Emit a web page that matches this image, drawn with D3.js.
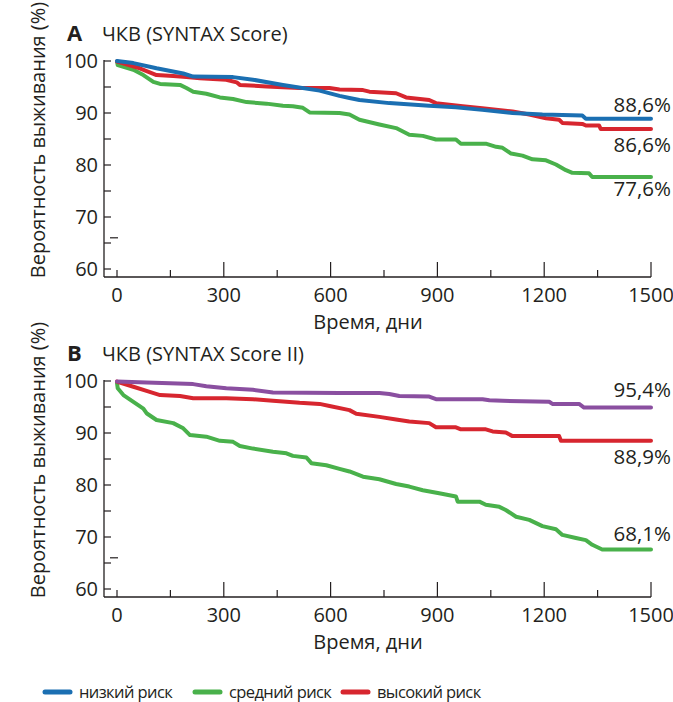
<!DOCTYPE html>
<html>
<head>
<meta charset="utf-8">
<script src="https://cdn.jsdelivr.net/npm/d3@7"></script>
<style>
  body { margin: 0; background: #fff; }
  svg text { font-family: "Open Sans", sans-serif; fill: #231f20; }
</style>
</head>
<body>
<svg id="chart" width="673" height="702"></svg>
<script>
// Kaplan-Meier curves, [day, survival %]
const aLow = [[0,100],[46,99.6],[111,98.6],[186,97.6],[214,97.0],[326,96.9],[382,96.4],[466,95.4],[569,94.3],
  [625,93.3],[653,92.9],[681,92.5],[765,91.9],[877,91.4],[952,91.1],[1026,90.6],[1111,90.0],[1195,89.7],
  [1307,89.5],[1317,88.9],[1500,88.9]];
const aMid = [[0,99.9],[2,99.2],[46,98.3],[74,97.3],[102,96.0],[121,95.6],[177,95.4],[195,94.8],[214,94.1],
  [251,93.7],[289,93.0],[326,92.7],[364,92.1],[420,91.8],[466,91.4],[494,91.3],[522,91.0],[541,90.1],
  [625,90.0],[653,89.7],[681,88.7],[737,87.8],[784,87.1],[821,85.8],[859,85.6],[896,84.9],[952,84.9],
  [966,84.1],[1036,84.1],[1065,83.5],[1083,83.3],[1107,82.2],[1139,81.8],[1167,81.1],[1205,80.9],
  [1233,80.1],[1261,79.0],[1279,78.5],[1326,78.4],[1335,77.7],[1500,77.7]];
const aHigh = [[0,99.9],[64,98.6],[111,97.3],[158,97.1],[195,96.9],[233,96.7],[307,96.4],[336,95.9],[345,95.4],
  [420,95.1],[513,94.8],[597,94.8],[625,94.5],[691,94.4],[709,94.1],[784,93.8],[812,93.0],[877,92.5],
  [896,91.9],[971,91.3],[1026,90.9],[1111,90.3],[1158,89.7],[1205,89.0],[1242,88.7],[1251,88.1],
  [1307,87.9],[1317,87.6],[1354,87.6],[1359,86.9],[1500,86.9]];

const bLow = [[0,99.9],[83,99.7],[214,99.4],[251,99.0],[307,98.6],[382,98.3],[438,97.8],[625,97.7],[737,97.7],
  [765,97.5],[793,97.1],[877,97.0],[896,96.5],[1027,96.5],[1046,96.3],[1083,96.2],[1214,96.0],[1223,95.6],
  [1298,95.6],[1312,94.9],[1500,94.9]];
const bMid = [[0,99.6],[2,98.6],[18,97.3],[46,96.0],[74,94.7],[83,93.8],[111,92.5],[158,91.9],[186,90.9],
  [205,89.6],[251,89.3],[289,88.5],[326,88.3],[345,87.5],[382,87.0],[438,86.4],[476,86.1],[494,85.6],
  [532,85.3],[546,84.2],[588,83.8],[625,83.1],[653,82.6],[691,81.6],[737,81.1],[784,80.2],[821,79.7],
  [859,79.0],[905,78.4],[952,77.8],[957,76.8],[1018,76.8],[1036,76.2],[1074,75.8],[1092,75.2],[1121,73.9],
  [1158,73.3],[1195,72.1],[1233,71.5],[1251,70.4],[1289,69.8],[1317,69.4],[1335,68.5],[1363,67.6],[1500,67.6]];
const bHigh = [[0,99.9],[8,99.7],[46,98.9],[83,98.1],[121,97.3],[177,97.1],[214,96.7],[307,96.7],[382,96.5],
  [438,96.2],[513,95.8],[569,95.6],[597,95.2],[653,94.4],[672,93.7],[737,93.1],[784,92.6],[821,92.2],
  [877,91.9],[896,91.1],[952,91.1],[966,90.7],[1036,90.7],[1055,90.3],[1092,90.1],[1111,89.4],[1242,89.4],
  [1247,88.5],[1500,88.5]];

const endLabelsA = ["88,6%", "86,6%", "77,6%"];
const endLabelsB = ["95,4%", "88,9%", "68,1%"];
const legendNames = ["низкий риск", "средний риск", "высокий риск"];
const xMajor = [0, 300, 600, 900, 1200, 1500];
const xMinor = [150, 450, 750, 1050, 1350];
const yMajor = [60, 70, 80, 90, 100];
const yMinor = [65, 75, 85, 95];

const blue = "#1b6fb2", green = "#49b14b", red = "#d7262f", purple = "#8a4fa0";

const svg = d3.select("#chart");

function drawPanel(top, letter, title, series, endLabels) {
  const g = svg.append("g").attr("transform", `translate(0,${top})`);
  const x = d3.scaleLinear().domain([0, 1500]).range([117, 651]);
  const y = d3.scaleLinear().domain([60, 100]).range([269, 61]);
  const axisX = 104, axisY = 277;

  // axes lines
  g.append("line").attr("x1", axisX).attr("x2", x(1500)).attr("y1", axisY).attr("y2", axisY)
    .attr("stroke", "#231f20").attr("stroke-width", 1.3);
  g.append("line").attr("x1", axisX).attr("x2", axisX).attr("y1", y(100) - 1).attr("y2", axisY)
    .attr("stroke", "#231f20").attr("stroke-width", 1.3);

  // x ticks (pointing up)
  g.selectAll(".xt").data(xMajor.concat(xMinor)).enter().append("line")
    .attr("x1", d => x(d)).attr("x2", d => x(d))
    .attr("y1", axisY).attr("y2", d => (d === 0 || xMinor.includes(d)) ? axisY - 7 : axisY - 15)
    .attr("stroke", "#231f20").attr("stroke-width", 1.2);
  g.selectAll(".xl").data(xMajor).enter().append("text")
    .attr("x", d => x(d)).attr("y", axisY + 25)
    .attr("text-anchor", "middle").attr("font-size", 20).text(d => d);

  // y ticks (pointing right)
  g.selectAll(".yt").data(yMajor.concat(yMinor)).enter().append("line")
    .attr("x1", axisX).attr("x2", axisX + 7)
    .attr("y1", d => y(d)).attr("y2", d => y(d))
    .attr("stroke", "#231f20").attr("stroke-width", 1.2);
  g.selectAll(".yl").data(yMajor).enter().append("text")
    .attr("x", axisX - 6).attr("y", d => y(d) + 7)
    .attr("text-anchor", "end").attr("font-size", 20).text(d => d);
  // small stray dash near 66
  g.append("line").attr("x1", axisX + 6).attr("x2", axisX + 14)
    .attr("y1", y(66)).attr("y2", y(66)).attr("stroke", "#231f20").attr("stroke-width", 1.2);

  // titles
  g.append("text").attr("x", 67).attr("y", 41).attr("font-family", "Liberation Serif, serif")
    .attr("font-weight", "bold").attr("font-size", 22).text(letter);
  g.append("text").attr("x", 102).attr("y", 41).attr("font-size", 20).text(title);
  g.append("text").attr("transform", `translate(45,140) rotate(-90)`)
    .attr("text-anchor", "middle").attr("font-size", 20).text("Вероятность выживания (%)");
  g.append("text").attr("x", 368).attr("y", 329).attr("text-anchor", "middle")
    .attr("font-size", 20).text("Время, дни");

  const line = d3.line().x(d => x(d[0])).y(d => y(d[1]));
  series.forEach(s => {
    g.append("path").datum(s.data).attr("d", line)
      .attr("fill", "none").attr("stroke", s.color).attr("stroke-width", 4)
      .attr("stroke-linejoin", "round").attr("stroke-linecap", "round");
  });

  endLabels.forEach(l => {
    g.append("text").attr("x", 671).attr("y", l.y).attr("text-anchor", "end")
      .attr("font-size", 20.5).text(l.text);
  });
}

drawPanel(0, "A", "ЧКВ (SYNTAX Score)",
  [{data: aMid, color: green}, {data: aHigh, color: red}, {data: aLow, color: blue}],
  [{text: endLabelsA[0], y: 112}, {text: endLabelsA[1], y: 152}, {text: endLabelsA[2], y: 196}]);

drawPanel(320, "B", "ЧКВ (SYNTAX Score II)",
  [{data: bMid, color: green}, {data: bHigh, color: red}, {data: bLow, color: purple}],
  [{text: endLabelsB[0], y: 77}, {text: endLabelsB[1], y: 144}, {text: endLabelsB[2], y: 221}]);

// legend
const legendColors = [blue, green, red];
const legendX = [45, 195, 343];
const lg = svg.append("g");
legendNames.forEach((n, i) => {
  lg.append("line").attr("x1", legendX[i]).attr("x2", legendX[i] + 25)
    .attr("y1", 692).attr("y2", 692).attr("stroke", legendColors[i])
    .attr("stroke-width", 5).attr("stroke-linecap", "round");
  lg.append("text").attr("x", legendX[i] + 34).attr("y", 698)
    .attr("font-size", 16.5).attr("letter-spacing", -0.6).text(n);
});
</script>
</body>
</html>
